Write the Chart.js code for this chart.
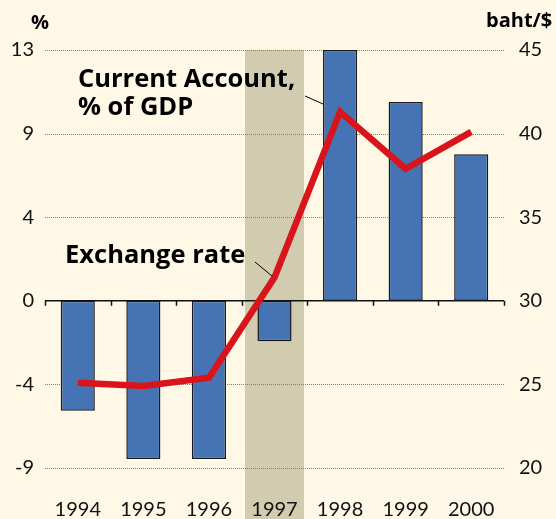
<!DOCTYPE html>
<html>
<head>
<meta charset="utf-8">
<script src="https://cdn.jsdelivr.net/npm/chart.js@4/dist/chart.umd.min.js"></script>
<style>
  html, body { margin: 0; padding: 0; background: #fff8e6; }
  canvas { display: block; }
</style>
</head>
<body>
<canvas id="c" width="556" height="519"></canvas>
<script>
// ---- data ----
const years = ['1994', '1995', '1996', '1997', '1998', '1999', '2000'];
const currentAccount = [-5.7, -8.2, -8.2, -2.1, 13.0, 10.3, 7.6];   // % of GDP (left axis)
const exchangeRate = [25.1, 24.9, 25.4, 31.4, 41.3, 37.9, 40.1];     // baht/$ (right axis)
const leftTickValues = [-8.667, -4.333, 0, 4.333, 8.667, 13];
const leftTickLabels = ['-9', '-4', '0', '4', '9', '13'];
const rightTickValues = [20, 25, 30, 35, 40, 45];
const rightTickLabels = ['20', '25', '30', '35', '40', '45'];
const shadedYear = '1997';

const BG = '#fff8e6';
const SHADE = '#d1ccb0';
const BLUE = '#4673b3';
const RED = '#d9141b';
const FONT = 'Lato, "Open Sans", "Liberation Sans", sans-serif';
const BOLDFONT = '"Open Sans", Lato, "Liberation Sans", sans-serif';

const decor = {
  id: 'decor',
  beforeDraw(chart) {
    const ctx = chart.ctx, a = chart.chartArea, xs = chart.scales.x;
    ctx.save();
    ctx.fillStyle = BG;
    ctx.fillRect(0, 0, chart.width, chart.height);
    const idx = years.indexOf(shadedYear);
    const cx = xs.getPixelForValue(idx);
    const cw = (a.right - a.left) / years.length;
    ctx.fillStyle = SHADE;
    ctx.fillRect(cx - cw * 0.45, a.top, cw * 0.9, chart.height - a.top);
    ctx.restore();
  },
  beforeDatasetsDraw(chart) {
    const ctx = chart.ctx, a = chart.chartArea, ys = chart.scales.y;
    ctx.save();
    ctx.strokeStyle = '#808080';
    ctx.lineWidth = 1;
    ctx.setLineDash([1, 1]);
    leftTickValues.forEach(v => {
      if (v === 0) return;
      const y = Math.round(ys.getPixelForValue(v)) + 0.5;
      ctx.beginPath(); ctx.moveTo(a.left, y); ctx.lineTo(a.right, y); ctx.stroke();
    });
    ctx.setLineDash([]);
    const y0 = ys.getPixelForValue(0);
    ctx.strokeStyle = '#111';
    ctx.lineWidth = 1.5;
    ctx.beginPath(); ctx.moveTo(a.left, y0); ctx.lineTo(a.right, y0); ctx.stroke();
    const cw = (a.right - a.left) / years.length;
    for (let i = 0; i <= years.length; i++) {
      const x = Math.round(a.left + i * cw) + 0.5;
      ctx.beginPath(); ctx.moveTo(x, y0); ctx.lineTo(x, y0 + 5); ctx.stroke();
    }
    ctx.restore();
  },
  afterDraw(chart) {
    const ctx = chart.ctx, xs = chart.scales.x, y1 = chart.scales.y1;
    ctx.save();
    ctx.fillStyle = '#000';
    ctx.textBaseline = 'alphabetic';
    ctx.font = 'bold 20px ' + BOLDFONT;
    ctx.textAlign = 'left';
    ctx.fillText('%', 31, 29);
    ctx.fillText('baht/$', 486, 27);
    ctx.font = 'bold 25.5px ' + BOLDFONT;
    ctx.fillText('Current Account,', 78, 87);
    ctx.fillText('% of GDP', 78, 115);
    ctx.fillText('Exchange rate', 65, 263);
    // leader lines
    ctx.strokeStyle = '#000';
    ctx.lineWidth = 1;
    const i97 = years.indexOf('1997');
    const px = xs.getPixelForValue(i97), py = y1.getPixelForValue(exchangeRate[i97]);
    ctx.beginPath(); ctx.moveTo(255, 262); ctx.lineTo(px - 2, py - 1); ctx.stroke();
    const i98 = years.indexOf('1998');
    const bx = xs.getPixelForValue(i98) - 17;
    ctx.beginPath(); ctx.moveTo(305, 96); ctx.lineTo(bx, 104); ctx.stroke();
    ctx.restore();
  }
};

new Chart(document.getElementById('c'), {
  data: {
    labels: years,
    datasets: [
      {
        type: 'line',
        data: exchangeRate,
        yAxisID: 'y1',
        borderColor: RED,
        borderWidth: 6.5,
        pointRadius: 0,
        tension: 0,
        fill: false,
        borderJoinStyle: 'miter',
        borderCapStyle: 'butt',
        order: 0
      },
      {
        type: 'bar',
        data: currentAccount,
        yAxisID: 'y',
        backgroundColor: BLUE,
        borderColor: '#1a1a1a',
        borderWidth: 1.5,
        borderSkipped: false,
        categoryPercentage: 1,
        barPercentage: 0.52,
        order: 1
      }
    ]
  },
  options: {
    responsive: false,
    animation: false,
    devicePixelRatio: 1,
    layout: { padding: { top: 50, left: 0, right: 0, bottom: 0 } },
    plugins: { legend: { display: false }, tooltip: { enabled: false } },
    scales: {
      x: {
        type: 'category',
        offset: true,
        grid: { display: false, drawTicks: false },
        border: { display: false },
        ticks: { color: '#111', font: { family: FONT, size: 20 }, padding: 30, maxRotation: 0 },
        afterFit(s) { s.height = 51; }
      },
      y: {
        type: 'linear',
        position: 'left',
        min: leftTickValues[0],
        max: leftTickValues[leftTickValues.length - 1],
        afterBuildTicks(s) { s.ticks = leftTickValues.map(v => ({ value: v })); },
        grid: { display: false, drawTicks: false },
        border: { display: false },
        ticks: { color: '#111', font: { family: FONT, size: 20 }, padding: 11,
                 callback: (v, i) => leftTickLabels[i] },
        afterFit(s) { s.width = 45; }
      },
      y1: {
        type: 'linear',
        position: 'right',
        min: rightTickValues[0],
        max: rightTickValues[rightTickValues.length - 1],
        afterBuildTicks(s) { s.ticks = rightTickValues.map(v => ({ value: v })); },
        grid: { display: false, drawTicks: false },
        border: { display: false },
        ticks: { color: '#111', font: { family: FONT, size: 20 }, padding: 15,
                 callback: (v, i) => rightTickLabels[i] },
        afterFit(s) { s.width = 52; }
      }
    }
  },
  plugins: [decor]
});
</script>
</body>
</html>
